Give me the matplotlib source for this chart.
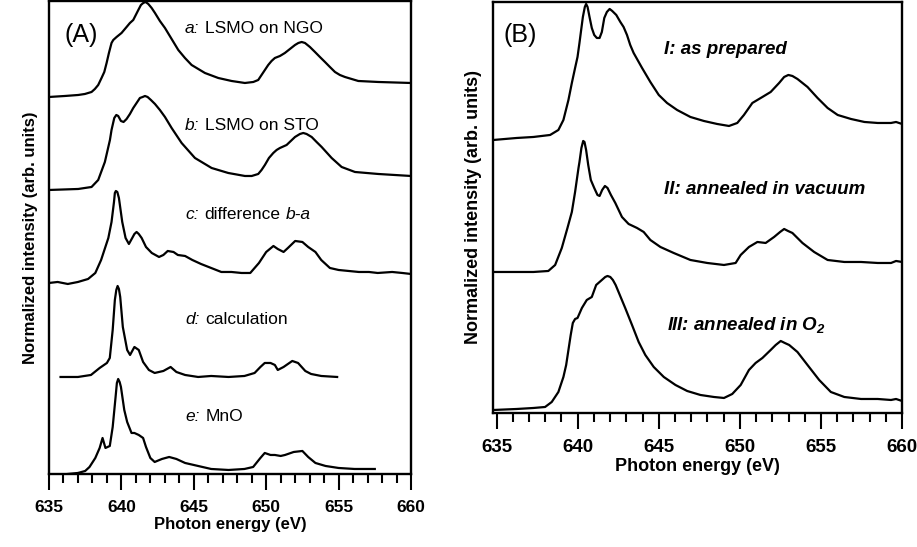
import matplotlib.pyplot as plt
from matplotlib.offsetbox import TextArea, HPacker, AnnotationBbox

plt.rcParams['font.family'] = ['Liberation Sans', 'DejaVu Sans']
plt.rcParams['mathtext.fontset'] = 'custom'
plt.rcParams['mathtext.rm'] = 'Liberation Sans'
plt.rcParams['mathtext.it'] = 'Liberation Sans:italic'
plt.rcParams['mathtext.bfit'] = 'Liberation Sans:italic:bold'

# ---- Panel A: Mn L-edge spectra (energy in eV, intensity in arb. units) ----
e_a = [635.0, 636.1, 637.02, 637.48, 637.94, 638.17, 638.40, 638.63, 638.82, 638.98, 639.14,
       639.32, 639.44, 639.67, 640.01, 640.36, 640.59, 640.82, 641.17, 641.35, 641.51, 641.67,
       641.86, 642.09, 642.32, 642.66, 643.01, 643.47, 643.93, 644.39, 644.85, 645.77, 646.69,
       647.61, 648.53, 649.11, 649.45, 649.68, 649.91, 650.14, 650.37, 650.60, 650.95, 651.29,
       651.64, 651.99, 652.22, 652.45, 652.68, 653.02, 653.37, 653.71, 654.06, 654.40, 654.75,
       655.09, 655.44, 655.90, 656.36, 657.74, 660.0]
i_a = [0.00, 0.01, 0.02, 0.03, 0.05, 0.08, 0.12, 0.19, 0.25, 0.34, 0.44,
       0.54, 0.57, 0.60, 0.64, 0.70, 0.74, 0.77, 0.87, 0.92, 0.94, 0.95,
       0.93, 0.89, 0.84, 0.76, 0.69, 0.58, 0.47, 0.39, 0.32, 0.24, 0.19,
       0.16, 0.14, 0.15, 0.17, 0.22, 0.27, 0.32, 0.36, 0.39, 0.41, 0.44,
       0.48, 0.52, 0.54, 0.55, 0.54, 0.50, 0.45, 0.40, 0.35, 0.30, 0.25,
       0.22, 0.20, 0.18, 0.16, 0.15, 0.14]

e_b = [635.0, 637.02, 637.94, 638.40, 638.86, 639.21, 639.32, 639.51, 639.65, 639.78, 639.97,
       640.15, 640.36, 640.59, 640.82, 641.05, 641.28, 641.47, 641.63, 641.81, 642.04, 642.32,
       642.66, 643.01, 643.47, 644.16, 645.08, 646.23, 647.38, 648.53, 649.0, 649.45, 649.68,
       649.91, 650.19, 650.49, 650.72, 650.95, 651.41, 651.99, 652.33, 652.56, 652.79, 653.14,
       653.48, 653.83, 654.52, 655.21, 656.13, 657.74, 660.0]
i_b = [0.00, 0.01, 0.03, 0.10, 0.28, 0.50, 0.60, 0.72, 0.75, 0.74, 0.69,
       0.68, 0.71, 0.76, 0.82, 0.87, 0.92, 0.93, 0.94, 0.93, 0.90, 0.86,
       0.80, 0.73, 0.62, 0.47, 0.32, 0.22, 0.17, 0.14, 0.14, 0.16, 0.20,
       0.25, 0.32, 0.37, 0.40, 0.42, 0.45, 0.53, 0.56, 0.57, 0.56, 0.53,
       0.48, 0.43, 0.32, 0.23, 0.18, 0.16, 0.14]

e_c = [635.0, 635.6, 636.3, 637.0, 637.7, 638.2, 638.6, 639.1, 639.32, 639.49, 639.55, 639.62,
       639.72, 639.83, 640.06, 640.29, 640.52, 640.75, 640.9, 641.05, 641.2, 641.4, 641.7, 642.1,
       642.6, 642.9, 643.2, 643.6, 643.9, 644.4, 644.9, 645.5, 646.2, 646.9, 647.6, 648.3,
       648.9, 649.5, 650.0, 650.5, 650.8, 651.2, 651.5, 652.0, 652.5, 652.9, 653.4, 653.8,
       654.4, 655.0, 655.7, 656.4, 657.1, 657.7, 658.7, 659.4, 660.0]
i_c = [0.00, 0.01, -0.01, 0.01, 0.04, 0.10, 0.23, 0.45, 0.61, 0.81, 0.90, 0.92,
       0.91, 0.85, 0.61, 0.45, 0.39, 0.45, 0.49, 0.51, 0.49, 0.45, 0.36, 0.30,
       0.26, 0.28, 0.32, 0.31, 0.28, 0.27, 0.23, 0.19, 0.15, 0.11, 0.11, 0.10,
       0.10, 0.20, 0.31, 0.37, 0.34, 0.31, 0.35, 0.42, 0.41, 0.36, 0.31, 0.23,
       0.15, 0.13, 0.12, 0.11, 0.11, 0.10, 0.11, 0.10, 0.09]

e_d = [635.8, 637.0, 637.9, 638.5, 639.0, 639.2, 639.4, 639.55, 639.65, 639.74, 639.83,
       639.92, 640.1, 640.4, 640.6, 640.9, 641.2, 641.5, 641.9, 642.3, 642.9, 643.4,
       643.8, 644.4, 645.3, 646.2, 647.4, 648.5, 649.2, 649.6, 649.9, 650.3, 650.6,
       650.8, 651.2, 651.8, 652.2, 652.7, 653.1, 653.8, 654.9]
i_d = [0.00, 0.00, 0.02, 0.09, 0.14, 0.19, 0.47, 0.77, 0.87, 0.91, 0.88,
       0.80, 0.50, 0.27, 0.22, 0.30, 0.27, 0.15, 0.07, 0.04, 0.06, 0.10,
       0.05, 0.02, 0.00, 0.01, 0.00, 0.01, 0.04, 0.10, 0.14, 0.14, 0.12,
       0.07, 0.10, 0.16, 0.14, 0.06, 0.03, 0.01, 0.00]

e_e = [636.3, 637.0, 637.5, 637.8, 638.2, 638.5, 638.7, 638.9, 639.2, 639.4, 639.6, 639.69,
       639.78, 639.88, 639.97, 640.2, 640.4, 640.7, 640.9, 641.2, 641.5, 641.7, 642.0, 642.3,
       642.8, 643.3, 643.8, 644.4, 645.3, 646.2, 647.4, 648.5, 649.1, 649.6, 649.9, 650.3,
       650.6, 651.0, 651.3, 651.9, 652.5, 652.9, 653.4, 654.1, 655.0, 656.1, 657.5]
i_e = [0.00, 0.01, 0.03, 0.07, 0.16, 0.26, 0.36, 0.26, 0.28, 0.47, 0.77, 0.91,
       0.95, 0.92, 0.87, 0.64, 0.52, 0.41, 0.41, 0.39, 0.36, 0.27, 0.16, 0.12,
       0.15, 0.17, 0.15, 0.11, 0.08, 0.05, 0.04, 0.05, 0.07, 0.16, 0.21, 0.19,
       0.19, 0.18, 0.19, 0.22, 0.23, 0.17, 0.11, 0.08, 0.06, 0.05, 0.05]

spectra_a = [(e_a, i_a), (e_b, i_b), (e_c, i_c), (e_d, i_d), (e_e, i_e)]
offsets_a = [3.77, 2.84, 1.91, 0.97, 0.0]
labels_a = [('a', 'LSMO on NGO', None), ('b', 'LSMO on STO', None),
            ('c', 'difference', 'b-a'), ('d', 'calculation', None), ('e', 'MnO', None)]
label_y_a = [4.45, 3.48, 2.59, 1.54, 0.57]

# ---- Panel B: film after different treatments ----
e_1 = [634.8, 636.24, 637.27, 638.30, 638.81, 639.12, 639.43, 639.64, 639.84, 639.99, 640.11,
       640.19, 640.32, 640.44, 640.52, 640.61, 640.73, 640.87, 641.02, 641.18, 641.35, 641.49,
       641.64, 641.80, 641.97, 642.13, 642.38, 642.63, 642.83, 643.04, 643.24, 643.45, 643.97,
       644.48, 645.00, 645.51, 646.13, 646.95, 647.78, 648.60, 649.33, 649.84, 650.25, 650.77,
       651.39, 651.90, 652.42, 652.73, 652.99, 653.24, 653.55, 654.17, 654.79, 655.41, 656.03,
       656.85, 657.68, 658.50, 659.32, 659.63, 660.0]
i_1 = [0.00, 0.02, 0.03, 0.05, 0.10, 0.20, 0.40, 0.57, 0.72, 0.83, 0.97,
       1.07, 1.23, 1.33, 1.36, 1.33, 1.23, 1.12, 1.05, 1.02, 1.02, 1.08,
       1.22, 1.28, 1.31, 1.29, 1.25, 1.18, 1.13, 1.05, 0.95, 0.87, 0.72,
       0.58, 0.45, 0.37, 0.30, 0.23, 0.19, 0.16, 0.14, 0.17, 0.25, 0.37,
       0.43, 0.48, 0.57, 0.63, 0.65, 0.64, 0.61, 0.53, 0.42, 0.32, 0.25,
       0.21, 0.18, 0.17, 0.17, 0.18, 0.16]

e_2 = [634.8, 636.24, 637.27, 638.19, 638.61, 639.02, 639.37, 639.64, 639.84, 640.05, 640.11,
       640.23, 640.34, 640.42, 640.52, 640.65, 640.81, 641.02, 641.22, 641.35, 641.51, 641.68,
       641.84, 642.05, 642.32, 642.73, 643.14, 643.66, 644.07, 644.48, 645.10, 645.92, 646.95,
       647.99, 649.02, 649.74, 650.05, 650.56, 651.08, 651.59, 652.11, 652.48, 652.73, 652.97,
       653.24, 653.86, 654.58, 655.41, 656.44, 657.47, 658.50, 659.32, 659.63, 660.0]
i_2 = [0.00, 0.00, 0.00, 0.01, 0.07, 0.24, 0.44, 0.60, 0.80, 1.04, 1.10,
       1.24, 1.31, 1.30, 1.22, 1.07, 0.92, 0.84, 0.77, 0.76, 0.82, 0.86,
       0.84, 0.77, 0.69, 0.55, 0.48, 0.44, 0.40, 0.32, 0.25, 0.19, 0.12,
       0.09, 0.07, 0.09, 0.17, 0.25, 0.30, 0.29, 0.35, 0.40, 0.43, 0.41,
       0.39, 0.29, 0.20, 0.12, 0.10, 0.10, 0.09, 0.09, 0.11, 0.10]

e_3 = [634.8, 636.24, 637.27, 637.99, 638.40, 638.81, 639.12, 639.29, 639.43, 639.57, 639.70,
       639.84, 639.99, 640.26, 640.56, 640.87, 641.14, 641.49, 641.70, 641.84, 642.01, 642.17,
       642.34, 642.52, 642.93, 643.35, 643.76, 644.17, 644.69, 645.31, 646.03, 646.75, 647.57,
       648.40, 649.02, 649.53, 650.05, 650.56, 650.97, 651.39, 651.90, 652.21, 652.52, 652.77,
       653.04, 653.55, 654.17, 654.89, 655.61, 656.44, 657.47, 658.50, 659.32, 659.63, 660.0]
i_3 = [0.00, 0.01, 0.02, 0.03, 0.08, 0.18, 0.33, 0.45, 0.60, 0.75, 0.87,
       0.91, 0.92, 1.02, 1.10, 1.13, 1.25, 1.30, 1.33, 1.34, 1.33, 1.30,
       1.25, 1.18, 1.02, 0.85, 0.68, 0.55, 0.43, 0.33, 0.25, 0.19, 0.15,
       0.13, 0.12, 0.16, 0.25, 0.40, 0.47, 0.52, 0.60, 0.65, 0.69, 0.67,
       0.65, 0.58, 0.45, 0.30, 0.18, 0.13, 0.11, 0.11, 0.10, 0.11, 0.09]

spectra_b = [(e_1, i_1), (e_2, i_2), (e_3, i_3)]
offsets_b = [2.73, 1.41, 0.03]
labels_b = ['I: as prepared', 'II: annealed in vacuum', r'III: annealed in O$_{\mathbfit{2}}$']
label_y_b = [3.635, 2.235, 0.88]
label_x_b = [645.3, 645.3, 645.5]

fig = plt.figure(figsize=(9.17, 5.47), dpi=100)
ax_a = fig.add_axes([0.0534, 0.1335, 0.3948, 0.8647])
ax_b = fig.add_axes([0.538, 0.245, 0.4457, 0.7514])


def style_axis(ax, xlim, ylim, tick_size, label_size):
    ax.set_xlim(*xlim)
    ax.set_ylim(*ylim)
    ax.set_xticks(range(635, 661, 5))
    ax.set_xticks(range(635, 661), minor=True)
    ax.set_yticks([])
    ax.tick_params(axis='x', which='major', direction='out', length=11.5, width=1.5,
                   pad=7, labelsize=tick_size)
    ax.tick_params(axis='x', which='minor', direction='out', length=6.5, width=1.5)
    for lbl in ax.get_xticklabels():
        lbl.set_fontweight('bold')
    for sp in ax.spines.values():
        sp.set_linewidth(1.7)
    ax.set_xlabel('Photon energy (eV)', fontsize=label_size, fontweight='bold', labelpad=2)
    ax.set_ylabel('Normalized intensity (arb. units)', fontsize=label_size,
                  fontweight='bold', labelpad=8)


# Panel A
for (e, i), off in zip(spectra_a, offsets_a):
    ax_a.plot(e, [v + off for v in i], color='black', lw=1.6, solid_joinstyle='round')
style_axis(ax_a, (635, 660), (0, 4.73), 12.5, 12)
ax_a.text(636.1, 4.39, '(A)', fontsize=18, va='center', ha='left')

for (tag, txt, tail), y in zip(labels_a, label_y_a):
    parts = [TextArea(tag + ':', textprops=dict(fontsize=12.5, style='italic')),
             TextArea(txt, textprops=dict(fontsize=12.5))]
    if tail:
        parts.append(TextArea(tail, textprops=dict(fontsize=12.5, style='italic')))
    box = HPacker(children=parts, align='baseline', pad=0, sep=4)
    ab = AnnotationBbox(box, (644.4, y), xycoords='data', box_alignment=(0, 0.5),
                        frameon=False, pad=0)
    ax_a.add_artist(ab)

# Panel B
for (e, i), off in zip(spectra_b, offsets_b):
    ax_b.plot(e, [v + off for v in i], color='black', lw=1.6, solid_joinstyle='round')
style_axis(ax_b, (634.8, 660), (0, 4.11), 13.5, 13)
ax_b.text(635.4, 3.78, '(B)', fontsize=18, va='center', ha='left')

for txt, x, y in zip(labels_b, label_x_b, label_y_b):
    ax_b.text(x, y, txt, fontsize=13.5, fontweight='bold', style='italic',
              va='center', ha='left')

fig.savefig('out.png', dpi=100)
